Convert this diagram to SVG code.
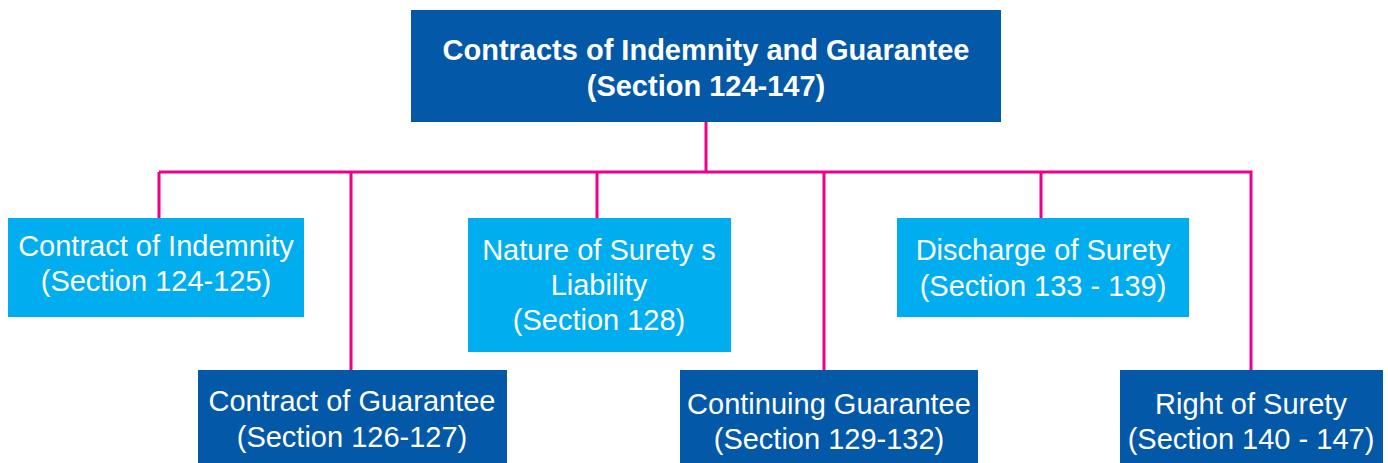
<svg xmlns="http://www.w3.org/2000/svg" width="1388" height="463" viewBox="0 0 1388 463">
<style>
.dark{fill:#0358A8}
.light{fill:#00AEEF}
.t{font-family:"Liberation Sans",Arial,sans-serif;font-size:29px;fill:#ffffff;text-anchor:middle}
.b{font-weight:bold}
.c{stroke:#EC008C;stroke-width:3;fill:none}
</style>
<rect width="1388" height="463" fill="#ffffff"/>
<g id="connectors">
<path class="c" d="M706 122V172M159 172H1251M159 172V218M351 172V370M597 172V218M824 172V370M1041 172V218M1251 170.5V370"/>
</g>
<g id="root">
<rect class="dark" x="411" y="10" width="590" height="112"/>
<text class="t b" x="706" y="60">Contracts of Indemnity and Guarantee</text>
<text class="t b" x="706" y="96">(Section 124-147)</text>
</g>
<g id="indemnity">
<rect class="light" x="8" y="218" width="296" height="99"/>
<text class="t" x="156" y="256">Contract of Indemnity</text>
<text class="t" x="156" y="291">(Section 124-125)</text>
</g>
<g id="guarantee">
<rect class="dark" x="198" y="370" width="309" height="93"/>
<text class="t" x="352" y="411">Contract of Guarantee</text>
<text class="t" x="352" y="447">(Section 126-127)</text>
</g>
<g id="nature">
<rect class="light" x="468" y="218" width="263" height="134"/>
<text class="t" x="599" y="260">Nature of Surety s</text>
<text class="t" x="599" y="295">Liability</text>
<text class="t" x="599" y="330">(Section 128)</text>
</g>
<g id="continuing">
<rect class="dark" x="680" y="370" width="298" height="93"/>
<text class="t" x="829" y="414">Continuing Guarantee</text>
<text class="t" x="829" y="449">(Section 129-132)</text>
</g>
<g id="discharge">
<rect class="light" x="897" y="218" width="292" height="99"/>
<text class="t" x="1043" y="260">Discharge of Surety</text>
<text class="t" x="1043" y="296">(Section 133 - 139)</text>
</g>
<g id="right">
<rect class="dark" x="1120" y="370" width="263" height="93"/>
<text class="t" x="1251" y="414">Right of Surety</text>
<text class="t" x="1251" y="449">(Section 140 - 147)</text>
</g>
</svg>
